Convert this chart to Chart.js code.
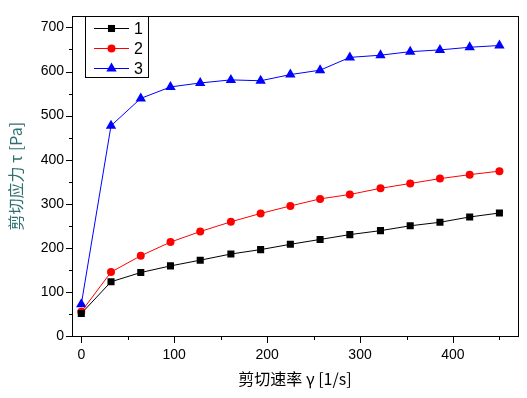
<!DOCTYPE html>
<html><head><meta charset="utf-8">
<script src="https://cdn.jsdelivr.net/npm/chart.js@4/dist/chart.umd.min.js"></script>
<style>html,body{margin:0;padding:0;background:#fff;}</style>
</head><body>
<canvas id="c" width="527" height="398"></canvas>
<script>
const shearRate = [0, 32, 64, 96, 128, 161, 193, 225, 257, 289, 322, 354, 386, 418, 450];
const stress1 = [51, 123, 144, 159, 172, 186, 196, 208, 219, 230, 239, 250, 258, 270, 279];
const stress2 = [55, 145, 182, 213, 237, 259, 278, 295, 311, 321, 335, 346, 357, 366, 374];
const stress3 = [72, 477, 539, 565, 574, 581, 579, 593, 603, 632, 637, 645, 649, 655, 659];
const seriesLabels = ['1', '2', '3'];
const xTickLabels = [0, 100, 200, 300, 400];
const yTickLabels = [0, 100, 200, 300, 400, 500, 600, 700];
const xTitle = '剪切速率 γ [1/s]';
const yTitle = '剪切应力 τ [Pa]';

const pts = arr => arr.map((v, i) => ({x: shearRate[i], y: v}));
const styles = [
  {color: '#000000', pointStyle: 'rect', radius: 5},
  {color: '#ff0000', pointStyle: 'circle', radius: 4},
  {color: '#0000ff', pointStyle: 'triangle', radius: 6}
];
const seriesData = [stress1, stress2, stress3];
const datasets = seriesData.map((d, i) => ({
  label: seriesLabels[i],
  data: pts(d),
  borderColor: styles[i].color,
  backgroundColor: styles[i].color,
  borderWidth: 1,
  pointStyle: styles[i].pointStyle,
  pointRadius: styles[i].radius,
  pointBorderWidth: 0,
  pointBackgroundColor: styles[i].color,
  pointBorderColor: styles[i].color,
  tension: 0
}));

function drawMarker(ctx, style, r, x, y, color) {
  ctx.save();
  ctx.fillStyle = color;
  ctx.beginPath();
  if (style === 'rect') {
    const s = r * Math.SQRT1_2;
    ctx.rect(x - s, y - s, 2 * s, 2 * s);
  } else if (style === 'circle') {
    ctx.arc(x, y, r, 0, Math.PI * 2);
  } else {
    ctx.moveTo(x, y - r);
    ctx.lineTo(x + r * Math.sin(Math.PI * 2 / 3), y - r * Math.cos(Math.PI * 2 / 3));
    ctx.lineTo(x + r * Math.sin(Math.PI * 4 / 3), y - r * Math.cos(Math.PI * 4 / 3));
    ctx.closePath();
  }
  ctx.fill();
  ctx.restore();
}

const framePlugin = {
  id: 'frame',
  beforeDatasetsDraw(chart) {
    const {ctx, chartArea: a, scales} = chart;
    ctx.save();
    ctx.strokeStyle = '#000';
    ctx.lineWidth = 1;
    ctx.strokeRect(Math.round(a.left) + 0.5, Math.round(a.top) + 0.5,
      Math.round(a.right - a.left), Math.round(a.bottom - a.top));
    ctx.beginPath();
    scales.y.ticks.forEach(t => {
      const v = t.value;
      if (v % 50 !== 0) return;
      const len = v % 100 === 0 ? 6 : 3;
      const py = Math.round(scales.y.getPixelForValue(v)) + 0.5;
      ctx.moveTo(Math.round(a.left) - len, py);
      ctx.lineTo(Math.round(a.left), py);
    });
    scales.x.ticks.forEach(t => {
      const v = t.value;
      if (v % 50 !== 0) return;
      const len = v % 100 === 0 ? 6 : 3;
      const px = Math.round(scales.x.getPixelForValue(v)) + 0.5;
      ctx.moveTo(px, Math.round(a.bottom) + 1);
      ctx.lineTo(px, Math.round(a.bottom) + 1 + len);
    });
    ctx.stroke();
    ctx.restore();
  },
  afterDatasetsDraw(chart) {
    const {ctx} = chart;
    const bx = 85, by = 16, bw = 63, bh = 61;
    ctx.save();
    ctx.fillStyle = '#fff';
    ctx.fillRect(bx, by, bw, bh);
    ctx.strokeStyle = '#000';
    ctx.lineWidth = 1;
    ctx.strokeRect(bx + 0.5, by + 0.5, bw, bh);
    chart.data.datasets.forEach((ds, i) => {
      const y = 28.5 + i * 20;
      ctx.strokeStyle = ds.borderColor;
      ctx.lineWidth = 1;
      ctx.beginPath();
      ctx.moveTo(94, y);
      ctx.lineTo(129, y);
      ctx.stroke();
      drawMarker(ctx, ds.pointStyle, ds.pointRadius, 111.5, y, ds.pointBackgroundColor);
      ctx.fillStyle = '#000';
      ctx.font = '16px "Liberation Sans", Arial, sans-serif';
      ctx.textBaseline = 'middle';
      ctx.textAlign = 'left';
      ctx.fillText(ds.label, 134, y + 1);
    });
    ctx.restore();
  }
};

new Chart(document.getElementById('c'), {
  type: 'line',
  data: {datasets},
  options: {
    responsive: false,
    animation: false,
    devicePixelRatio: 1,
    layout: {padding: {top: 9, right: 9, left: 0, bottom: 0}},
    plugins: {legend: {display: false}, tooltip: {enabled: false}},
    scales: {
      x: {
        type: 'linear',
        min: -10, max: 470,
        grid: {display: false, drawTicks: false},
        border: {display: false},
        afterFit(s) { s.height = 62; },
        ticks: {
          stepSize: 50, maxTicksLimit: 100, includeBounds: false, autoSkip: false, maxRotation: 0, padding: 11,
          color: '#000',
          font: {family: '"Liberation Sans", Arial, sans-serif', size: 14},
          callback: v => xTickLabels.includes(v) ? String(v) : ''
        },
        title: {
          display: true, text: xTitle, color: '#000',
          font: {family: '"Noto Sans CJK SC", "Liberation Sans", sans-serif', size: 16},
          padding: {top: 0, bottom: 9}
        }
      },
      y: {
        type: 'linear',
        min: 0, max: 725,
        grid: {display: false, drawTicks: false},
        border: {display: false},
        afterFit(s) { s.width = 72; },
        ticks: {
          stepSize: 50, maxTicksLimit: 100, includeBounds: false, autoSkip: false, padding: 8,
          color: '#000',
          font: {family: '"Liberation Sans", Arial, sans-serif', size: 14},
          callback: v => yTickLabels.includes(v) ? String(v) : ''
        },
        title: {
          display: true, text: yTitle, color: '#2f6f6f',
          font: {family: '"Noto Sans CJK SC", "Liberation Sans", sans-serif', size: 16},
          padding: {top: 6, bottom: 0}
        }
      }
    }
  },
  plugins: [framePlugin]
});
</script>
</body></html>
